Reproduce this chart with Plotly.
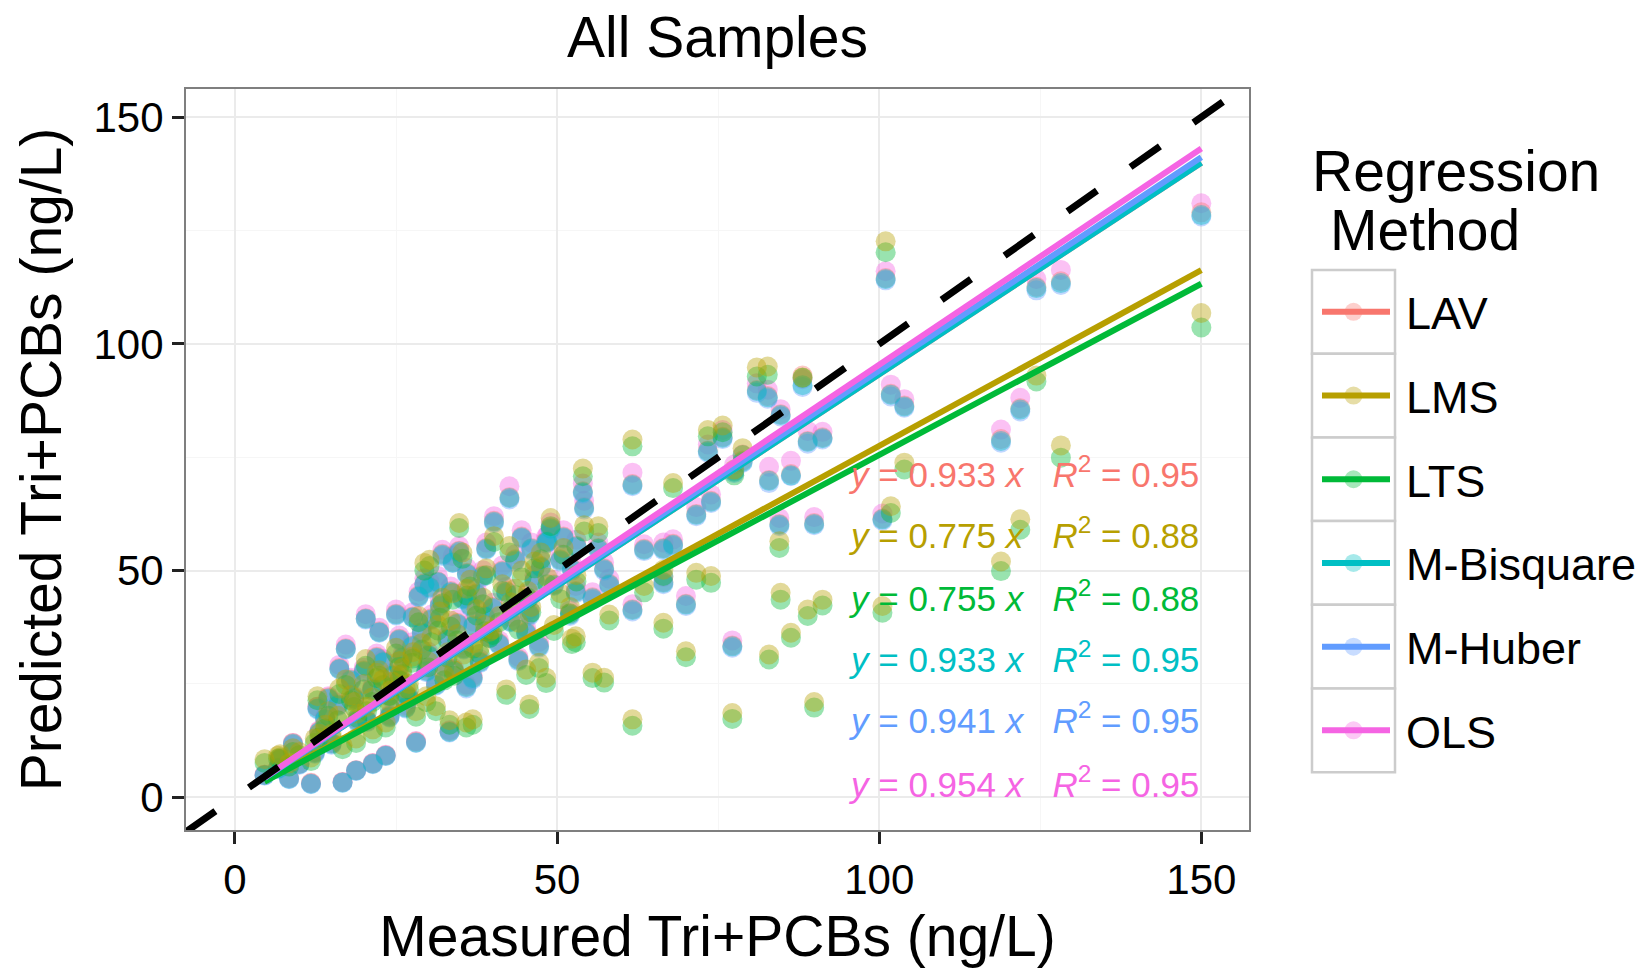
import plotly.graph_objects as go

# ---------------- data ----------------
methods = ["LAV", "LMS", "LTS", "M-Bisquare", "M-Huber", "OLS"]
colors = ["#F8766D", "#B79F00", "#00BA38", "#00BFC4", "#619CFF", "#F564E3"]
slopes = [0.933, 0.775, 0.755, 0.933, 0.941, 0.954]
r_squared = [0.95, 0.88, 0.88, 0.95, 0.95, 0.95]

measured = [
    150.0, 128.2, 124.4, 121.9, 118.9, 101.0, 101.8, 103.9, 100.5, 81.0,
    82.7, 88.1, 84.7, 88.9, 91.2, 82.9, 86.3, 84.5, 73.4, 75.7,
    78.8, 77.5, 73.9, 71.6, 70.0, 68.0, 61.7, 66.5, 63.5, 66.5,
    58.1, 55.5, 57.3, 54.0, 54.2, 61.7, 77.2, 89.9, 42.6, 34.8,
    40.2, 49.0, 30.2, 32.2, 48.3, 45.2, 45.7, 42.1, 47.2, 52.9,
    52.3, 4.6, 6.7, 8.4, 11.8, 16.7, 18.8, 21.4, 23.4, 28.1,
    33.3, 12.8, 13.1, 12.4, 20.3, 22.4, 27.6, 17.2, 16.2, 29.4,
    33.8, 35.9, 36.9, 29.7, 31.2, 21.3, 24.5, 26.0, 31.5, 35.3,
    38.5, 40.0, 43.5, 46.0, 48.5, 50.5, 37.0, 33.0, 27.0, 19.0,
    15.0, 10.0, 24.0, 38.0, 44.0, 41.0, 52.0, 56.4, 14.5, 25.5,
    30.5, 36.5, 39.0, 46.5, 18.0, 9.0, 7.0, 28.5, 23.0, 34.0,
    14.0, 16.0, 18.5, 20.0, 22.0, 24.0, 25.0, 26.5, 27.5, 29.0,
    30.0, 31.8, 32.5, 33.5, 34.5, 35.5, 36.0, 37.5, 38.8, 39.5,
    41.5, 42.8, 44.5, 45.5, 47.5, 49.5, 51.0, 53.0, 20.5, 25.5,
]
pred_lav = [
    129.0, 113.8, 112.6, 85.8, 79.0, 114.5, 89.0, 86.4, 61.5, 89.8,
    88.5, 93.0, 84.5, 78.6, 79.4, 70.0, 71.3, 60.3, 76.5, 79.5,
    74.3, 72.0, 65.4, 62.5, 42.7, 55.9, 69.1, 55.0, 54.8, 47.5,
    47.1, 44.1, 50.5, 67.5, 64.0, 41.5, 33.5, 60.5, 66.2, 54.4,
    61.0, 59.5, 46.5, 53.7, 56.5, 36.5, 40.5, 45.5, 33.5, 45.5,
    50.5, 5.0, 6.5, 4.3, 3.2, 3.4, 6.0, 7.5, 9.3, 12.3,
    14.6, 20.0, 14.6, 10.0, 39.5, 36.6, 39.9, 32.9, 28.5, 47.2,
    52.0, 24.5, 26.5, 28.0, 25.0, 24.0, 27.0, 31.0, 47.6, 44.0,
    49.0, 42.0, 52.5, 55.0, 56.5, 52.5, 38.0, 35.0, 22.0, 17.0,
    12.0, 7.5, 18.0, 30.0, 30.5, 34.0, 40.5, 55.0, 22.0, 35.0,
    39.5, 42.5, 55.0, 48.0, 26.0, 12.0, 8.5, 44.5, 30.0, 28.0,
    17.5, 20.5, 22.0, 28.0, 31.0, 22.5, 40.5, 20.0, 33.5, 36.5,
    31.5, 42.5, 29.0, 45.5, 38.5, 33.0, 49.5, 45.0, 40.0, 35.5,
    50.0, 39.0, 57.5, 44.0, 51.0, 47.0, 57.5, 55.5, 17.0, 26.0,
]
pred_lms = [
    106.8, 77.6, 93.0, 61.3, 52.0, 122.6, 64.2, 73.8, 42.2, 94.8,
    95.0, 92.6, 45.1, 41.4, 43.6, 31.5, 36.3, 56.5, 81.0, 82.0,
    77.0, 72.3, 48.8, 49.5, 32.2, 69.3, 78.9, 38.5, 46.6, 50.2,
    40.3, 27.5, 26.4, 72.5, 60.0, 17.2, 18.6, 21.0, 55.4, 60.5,
    57.6, 61.6, 52.4, 44.0, 26.4, 28.2, 20.5, 23.8, 29.7, 35.5,
    35.0, 8.4, 9.2, 7.5, 8.8, 11.5, 13.0, 15.0, 16.5, 19.0,
    17.0, 22.3, 14.0, 13.0, 30.5, 28.0, 32.0, 26.0, 24.0, 51.7,
    45.0, 16.5, 17.2, 22.3, 20.1, 22.0, 25.5, 28.5, 38.0, 54.0,
    44.0, 37.0, 46.0, 42.0, 48.5, 45.0, 34.0, 32.0, 25.0, 18.5,
    14.0, 10.0, 21.0, 33.0, 38.5, 40.0, 42.0, 59.8, 19.0, 30.0,
    35.5, 48.0, 50.5, 52.0, 22.5, 10.8, 9.5, 40.0, 26.0, 28.0,
    16.0, 18.0, 21.0, 25.0, 27.5, 23.5, 33.0, 24.0, 31.0, 34.0,
    30.0, 41.0, 27.0, 39.0, 36.0, 31.5, 46.0, 41.5, 38.0, 36.5,
    47.0, 43.0, 50.0, 45.5, 54.0, 38.0, 55.0, 49.0, 20.0, 27.0,
]
pred_lts = [
    103.6, 74.9, 91.7, 59.0, 49.9, 120.2, 62.7, 72.3, 40.7, 92.8,
    93.2, 92.5, 43.6, 40.0, 42.3, 30.4, 35.2, 55.0, 79.6, 80.5,
    75.5, 71.0, 47.3, 48.0, 30.9, 68.2, 77.4, 37.2, 45.2, 48.8,
    39.0, 26.3, 25.3, 70.8, 58.6, 15.8, 17.3, 19.8, 54.0, 59.4,
    56.3, 59.8, 51.0, 42.8, 25.2, 27.0, 19.5, 22.6, 28.5, 34.2,
    33.8, 7.6, 8.5, 6.8, 8.0, 10.6, 12.0, 14.0, 15.4, 17.8,
    16.0, 21.4, 13.2, 12.0, 29.0, 26.8, 30.6, 24.8, 22.8, 50.0,
    43.6, 15.4, 16.0, 21.0, 19.0, 21.0, 24.3, 27.2, 36.8, 52.6,
    42.6, 35.8, 44.6, 40.8, 47.0, 43.7, 32.8, 30.8, 23.8, 17.5,
    13.2, 9.3, 19.8, 31.6, 37.0, 38.6, 40.6, 58.3, 18.0, 28.8,
    34.2, 46.5, 49.0, 50.5, 21.4, 10.0, 8.8, 38.6, 24.8, 26.8,
    15.2, 17.0, 19.9, 23.8, 26.3, 22.4, 31.7, 22.8, 29.7, 32.6,
    28.7, 39.6, 25.8, 37.6, 34.6, 30.2, 44.5, 40.1, 36.6, 35.1,
    45.5, 41.6, 48.5, 44.0, 52.5, 36.7, 53.5, 47.6, 19.0, 25.8,
]
pred_mbisquare = [
    128.4, 113.4, 112.3, 85.5, 78.6, 114.3, 88.8, 86.2, 61.3, 89.6,
    88.2, 90.9, 84.3, 78.4, 79.2, 69.8, 71.0, 60.1, 76.3, 79.3,
    74.0, 71.8, 65.2, 62.3, 42.5, 55.7, 68.9, 54.8, 54.6, 47.3,
    46.9, 43.9, 50.3, 67.3, 63.8, 41.3, 33.3, 60.3, 66.0, 54.2,
    60.8, 59.3, 46.3, 53.5, 56.3, 36.3, 40.3, 45.3, 33.3, 45.3,
    50.3, 4.9, 6.4, 4.1, 3.0, 3.3, 5.9, 7.4, 9.2, 12.1,
    14.4, 19.6, 14.4, 9.8, 39.4, 36.4, 39.7, 32.7, 28.3, 47.0,
    51.8, 24.3, 26.3, 27.8, 24.8, 23.8, 26.8, 30.8, 47.5, 43.8,
    48.8, 41.8, 52.3, 54.8, 56.3, 52.3, 37.8, 34.8, 21.8, 16.8,
    11.8, 7.3, 17.8, 29.8, 30.3, 33.8, 40.3, 54.8, 21.8, 34.8,
    39.3, 42.3, 54.8, 47.8, 25.8, 11.8, 8.4, 44.3, 29.8, 27.8,
    17.3, 20.3, 21.8, 27.8, 30.8, 22.3, 40.3, 19.8, 33.3, 36.3,
    31.3, 42.3, 28.8, 45.3, 38.3, 32.8, 49.3, 44.8, 39.8, 35.3,
    49.8, 38.8, 57.3, 43.8, 50.8, 46.8, 57.3, 55.3, 16.8, 25.8,
]
pred_mhuber = [
    128.1, 113.0, 111.8, 85.1, 78.2, 114.0, 88.4, 85.9, 61.0, 89.2,
    87.9, 90.5, 84.0, 78.0, 78.9, 69.3, 70.8, 59.8, 76.0, 79.0,
    73.8, 71.5, 64.9, 62.0, 42.2, 55.4, 68.6, 54.5, 54.3, 47.0,
    46.6, 43.6, 50.0, 67.0, 63.5, 41.0, 33.0, 60.0, 65.7, 53.9,
    60.5, 59.0, 46.0, 53.2, 56.0, 36.0, 40.0, 45.0, 33.0, 45.0,
    50.0, 4.8, 6.2, 4.0, 2.9, 3.2, 5.8, 7.3, 9.1, 12.0,
    14.3, 19.4, 14.3, 9.6, 39.2, 36.3, 39.6, 32.6, 28.2, 46.9,
    51.7, 24.0, 26.0, 27.6, 24.6, 23.6, 26.6, 30.6, 47.3, 43.6,
    48.6, 41.6, 52.0, 54.5, 56.2, 52.0, 37.6, 34.6, 21.6, 16.6,
    11.6, 7.2, 17.6, 29.6, 30.0, 33.6, 40.0, 54.5, 21.6, 34.6,
    39.1, 42.1, 54.6, 47.6, 25.6, 11.6, 8.2, 44.1, 29.6, 27.6,
    17.1, 20.1, 21.6, 27.6, 30.6, 22.1, 40.1, 19.6, 33.1, 36.1,
    31.1, 42.1, 28.6, 45.1, 38.1, 32.6, 49.1, 44.6, 39.6, 35.1,
    49.6, 38.6, 57.1, 43.6, 50.6, 46.6, 57.1, 55.1, 16.6, 25.6,
]
pred_ols = [
    131.0, 116.3, 114.3, 88.1, 81.1, 116.0, 91.0, 87.8, 62.6, 91.3,
    89.9, 92.2, 85.6, 80.8, 80.6, 72.9, 74.2, 61.6, 77.8, 81.0,
    75.6, 73.4, 66.8, 64.0, 44.4, 56.9, 71.6, 56.2, 55.8, 48.6,
    48.2, 45.2, 51.8, 69.2, 65.4, 42.6, 34.6, 61.8, 68.6, 55.4,
    62.0, 60.6, 47.5, 54.6, 57.5, 37.4, 41.4, 46.4, 34.3, 46.6,
    51.6, 5.0, 6.5, 4.2, 3.1, 3.4, 6.0, 7.6, 9.4, 12.4,
    14.8, 20.0, 14.8, 10.0, 40.4, 37.4, 40.8, 33.7, 29.2, 48.3,
    53.2, 24.9, 26.9, 28.5, 25.4, 24.3, 27.4, 31.6, 48.8, 45.0,
    50.1, 42.9, 53.6, 56.2, 57.8, 53.6, 38.8, 35.7, 22.3, 17.2,
    12.0, 7.4, 18.2, 30.5, 31.0, 34.6, 41.2, 56.2, 22.3, 35.7,
    40.3, 43.4, 56.2, 49.0, 26.4, 12.0, 8.5, 45.4, 30.5, 28.4,
    17.8, 20.9, 22.4, 28.6, 31.7, 22.9, 41.4, 20.3, 34.2, 37.3,
    32.1, 43.4, 29.5, 46.5, 39.3, 33.6, 50.6, 46.0, 40.8, 36.2,
    51.1, 39.8, 58.9, 45.0, 52.2, 48.0, 58.9, 56.8, 17.1, 26.4,
]
predicted = [pred_lav, pred_lms, pred_lts, pred_mbisquare, pred_mhuber, pred_ols]

# order in which the point layers are stacked (first = bottom)
point_order = ["OLS", "LAV", "M-Huber", "M-Bisquare", "LTS", "LMS"]

x_ticks = [0, 50, 100, 150]
y_ticks = [0, 50, 100, 150]

# ---------------- layout constants ----------------
W, H = 1642, 975
PL, PR, PT, PB = 186, 1249, 89, 830          # panel edges in pixels
X_RANGE = [-7.6, 157.4]
Y_RANGE = [-7.2, 156.2]
FONT = "Liberation Sans, Arial, Helvetica, sans-serif"


def pxx(p):
    return (p - PL) / (PR - PL)


def pxy(p):
    return (PB - p) / (PB - PT)


fig = go.Figure()

# points
for name in point_order:
    i = methods.index(name)
    fig.add_trace(go.Scatter(
        x=measured, y=predicted[i], mode="markers", name=name, showlegend=False,
        marker=dict(color=colors[i], size=20, opacity=0.4, line=dict(width=0)),
    ))

# regression lines (through origin) over the measured range
x_lo, x_hi = min(measured), max(measured)
for name, col, b in zip(methods, colors, slopes):
    fig.add_trace(go.Scatter(
        x=[x_lo, x_hi], y=[b * x_lo, b * x_hi], mode="lines", name=name,
        showlegend=False, line=dict(color=col, width=6),
    ))

# 1:1 reference line
fig.add_trace(go.Scatter(
    x=X_RANGE, y=X_RANGE, mode="lines", showlegend=False, name="1:1",
    line=dict(color="black", width=7, dash="36px,41px"),
))

# equation labels
ann_y = [71.8, 58.2, 44.5, 31.0, 17.4, 3.3]
annotations = []
for col, b, r2, yy in zip(colors, slopes, r_squared, ann_y):
    annotations.append(dict(
        x=150, y=yy, xref="x", yref="y", xanchor="right", yanchor="middle",
        showarrow=False,
        text=f"<i>y</i> = {b:.3f} <i>x</i>\u00a0\u00a0\u00a0<i>R</i><sup>2</sup> = {r2:.2f}",
        font=dict(family=FONT, size=35, color=col),
    ))

# manual legend (ggplot style)
shapes = []
annotations.append(dict(x=pxx(1310), y=pxy(171), xref="paper", yref="paper",
                        xanchor="left", yanchor="middle", showarrow=False,
                        text="Regression", font=dict(family=FONT, size=57, color="black")))
annotations.append(dict(x=pxx(1328), y=pxy(230), xref="paper", yref="paper",
                        xanchor="left", yanchor="middle", showarrow=False,
                        text="Method", font=dict(family=FONT, size=57, color="black")))
box_top, box_h = 270, 83.7
kx0, kx1 = 1312, 1395
for i, (name, col) in enumerate(zip(methods, colors)):
    t = box_top + i * box_h
    c = t + box_h / 2
    shapes.append(dict(type="rect", xref="paper", yref="paper",
                       x0=pxx(kx0), x1=pxx(kx1), y0=pxy(t + box_h), y1=pxy(t),
                       line=dict(color="#CCCCCC", width=2.5), fillcolor="white", layer="above"))
    cx = (kx0 + kx1) / 2
    shapes.append(dict(type="circle", xref="paper", yref="paper",
                       x0=pxx(cx - 9), x1=pxx(cx + 9), y0=pxy(c + 9), y1=pxy(c - 9),
                       line=dict(width=0), fillcolor=col, opacity=0.35, layer="above"))
    shapes.append(dict(type="line", xref="paper", yref="paper",
                       x0=pxx(kx0 + 10), x1=pxx(kx1 - 5), y0=pxy(c), y1=pxy(c),
                       line=dict(color=col, width=6), layer="above"))
    annotations.append(dict(x=pxx(1404), y=pxy(c + 2), xref="paper", yref="paper",
                            xanchor="left", yanchor="middle", showarrow=False,
                            text=name, font=dict(family=FONT, size=45, color="black")))

axis_common = dict(
    showgrid=True, gridcolor="#EBEBEB", gridwidth=1.5,
    minor=dict(showgrid=True, gridcolor="#F6F6F6", gridwidth=1, dtick=25),
    zeroline=False, showline=True, mirror=True, linecolor="#7F7F7F", linewidth=2,
    ticks="outside", ticklen=12, tickwidth=3, tickcolor="#222222",
    tickfont=dict(family=FONT, size=42, color="black"),
    tickmode="array",
)

fig.update_layout(
    width=W, height=H,
    margin=dict(l=PL, r=W - PR, t=PT, b=H - PB, autoexpand=False),
    paper_bgcolor="white", plot_bgcolor="white",
    font=dict(family=FONT, size=42, color="black"),
    showlegend=False,
    title=dict(text="All Samples", x=0.5, xref="paper", xanchor="center",
               y=1 - 37 / H, yref="container", yanchor="middle",
               font=dict(family=FONT, size=57, color="black")),
    xaxis=dict(range=X_RANGE, tickvals=x_ticks,
               title=dict(text="Measured Tri+PCBs (ng/L)", standoff=14,
                          font=dict(family=FONT, size=57, color="black")),
               **axis_common),
    yaxis=dict(range=Y_RANGE, tickvals=y_ticks,
               title=dict(text="Predicted Tri+PCBs (ng/L)", standoff=14,
                          font=dict(family=FONT, size=57, color="black")),
               **axis_common),
    annotations=annotations,
    shapes=shapes,
)

fig.write_html("out.html")
